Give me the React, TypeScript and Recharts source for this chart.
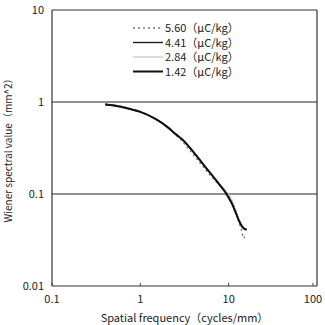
import React from "react";
import {
  LineChart,
  Line,
  XAxis,
  YAxis,
  ReferenceLine,
  Label,
} from "recharts";

const seriesNames = ["5.60（μC/kg）", "4.41（μC/kg）", "2.84（μC/kg）", "1.42（μC/kg）"];

const freq560 = [0.4, 0.6, 0.8, 1.0, 1.5, 2, 2.5, 3, 3.5, 4, 5, 6, 7, 8, 9, 10, 11, 12, 13, 14, 14.8, 15.3];
const wsv560 = [0.95, 0.9, 0.84, 0.79, 0.65, 0.54, 0.44, 0.37, 0.31, 0.265, 0.205, 0.165, 0.14, 0.122, 0.108, 0.095, 0.08, 0.064, 0.05, 0.04, 0.033, 0.036];

const freq441 = [0.4, 0.6, 0.8, 1.0, 1.5, 2, 2.5, 3, 4, 5, 6, 7, 8, 9, 10, 11, 12, 13, 14, 15, 16];
const wsv441 = [0.94, 0.89, 0.83, 0.78, 0.65, 0.54, 0.45, 0.39, 0.285, 0.218, 0.175, 0.146, 0.124, 0.108, 0.092, 0.077, 0.063, 0.052, 0.046, 0.042, 0.041];

const freq284 = [0.4, 0.6, 0.8, 1.0, 1.5, 2, 2.5, 3, 4, 5, 6, 7, 8, 9, 10, 11, 12, 13, 14, 15];
const wsv284 = [0.95, 0.9, 0.84, 0.78, 0.65, 0.54, 0.45, 0.38, 0.28, 0.215, 0.175, 0.148, 0.128, 0.113, 0.1, 0.085, 0.067, 0.054, 0.047, 0.042];

const freq142 = [0.4, 0.6, 0.8, 1.0, 1.5, 2, 2.5, 3, 4, 5, 6, 7, 8, 9, 10, 11, 12, 13, 14, 15, 16];
const wsv142 = [0.94, 0.89, 0.83, 0.78, 0.65, 0.54, 0.45, 0.39, 0.285, 0.218, 0.175, 0.146, 0.124, 0.107, 0.091, 0.077, 0.063, 0.052, 0.045, 0.042, 0.041];

const xTicks = [0.1, 1, 10, 100];
const yTicks = [0.01, 0.1, 1, 10];
const xTickLabels = ["0.1", "1", "10", "100"];
const yTickLabels = ["0.01", "0.1", "1", "10"];

const toRows = (xs: number[], ys: number[]) => xs.map((f, i) => ({ f, v: ys[i] }));

const styles = [
  { color: "#777", width: 1.3, dash: "2 3" },
  { color: "#222", width: 1.4, dash: undefined },
  { color: "#bbb", width: 1, dash: undefined },
  { color: "#111", width: 2, dash: undefined },
];

const series = [
  toRows(freq560, wsv560),
  toRows(freq441, wsv441),
  toRows(freq284, wsv284),
  toRows(freq142, wsv142),
];

const FONT = "'Noto Sans CJK JP', 'Noto Sans', sans-serif";

const XTick = (props: any) => {
  const { x, y, payload } = props;
  const idx = xTicks.indexOf(payload.value);
  return (
    <g>
      <line x1={x} x2={x} y1={y - 13} y2={y - 16} stroke="#444" strokeWidth={1} />
      <text x={x} y={y} dy={4} textAnchor="middle" fontSize={11} fill="#222" fontFamily={FONT}>
        {idx >= 0 ? xTickLabels[idx] : payload.value}
      </text>
    </g>
  );
};

const YTick = (props: any) => {
  const { x, y, payload } = props;
  const idx = yTicks.indexOf(payload.value);
  return (
    <text x={x} y={y} dy={4} textAnchor="end" fontSize={11} fill="#222" fontFamily={FONT}>
      {idx >= 0 ? yTickLabels[idx] : payload.value}
    </text>
  );
};

const LegendBox = () => (
  <svg
    width={130}
    height={60}
    style={{ position: "absolute", left: 133, top: 21, overflow: "visible" }}
  >
    {seriesNames.map((n, i) => (
      <g key={n}>
        <line
          x1={0}
          x2={30}
          y1={7 + i * 14.5}
          y2={7 + i * 14.5}
          stroke={styles[i].color}
          strokeWidth={styles[i].width}
          strokeDasharray={styles[i].dash}
        />
        <text x={32} y={7 + i * 14.5} dy={4} fontSize={11} fill="#222" fontFamily={FONT}>
          {n}
        </text>
      </g>
    ))}
  </svg>
);

export default function App() {
  return (
    <div style={{ position: "absolute", left: 0, top: 0, width: 325, height: 325, background: "#fff" }}>
      <LineChart width={325} height={325} margin={{ top: 10, right: 8, bottom: 0, left: 0 }}>
        <XAxis
          dataKey="f"
          type="number"
          scale="log"
          domain={[0.1, 100]}
          ticks={xTicks}
          allowDataOverflow
          axisLine={false}
          tickLine={false}
          tickSize={0}
          tickMargin={13}
          height={39}
          tick={<XTick />}
        >
          <Label
            value="Spatial frequency（cycles/mm）"
            position="insideBottom"
            offset={3}
            fontSize={11}
            fill="#222"
            fontFamily={FONT}
          />
        </XAxis>
        <YAxis
          dataKey="v"
          type="number"
          scale="log"
          domain={[0.01, 10]}
          ticks={yTicks}
          allowDataOverflow
          axisLine={false}
          tickLine={false}
          tickSize={0}
          tickMargin={8}
          width={52}
          tick={<YTick />}
        >
          <Label
            value="Wiener spectral value（mm^2）"
            angle={-90}
            position="insideLeft"
            offset={8}
            style={{ textAnchor: "middle" }}
            fontSize={10}
            fill="#222"
            fontFamily={FONT}
          />
        </YAxis>
        <ReferenceLine y={10} stroke="#333" strokeWidth={1.2} />
        <ReferenceLine y={0.01} stroke="#333" strokeWidth={1.2} />
        <ReferenceLine x={0.1} stroke="#333" strokeWidth={1.2} />
        <ReferenceLine x={100} stroke="#333" strokeWidth={1.2} />
        <ReferenceLine y={1} stroke="#222" strokeWidth={1} />
        <ReferenceLine y={0.1} stroke="#222" strokeWidth={1} />
        {series.map((d, i) => (
          <Line
            key={seriesNames[i]}
            data={d}
            dataKey="v"
            name={seriesNames[i]}
            type="monotone"
            stroke={styles[i].color}
            strokeWidth={styles[i].width}
            strokeDasharray={styles[i].dash}
            dot={false}
            isAnimationActive={false}
          />
        ))}
      </LineChart>
      <LegendBox />
    </div>
  );
}
